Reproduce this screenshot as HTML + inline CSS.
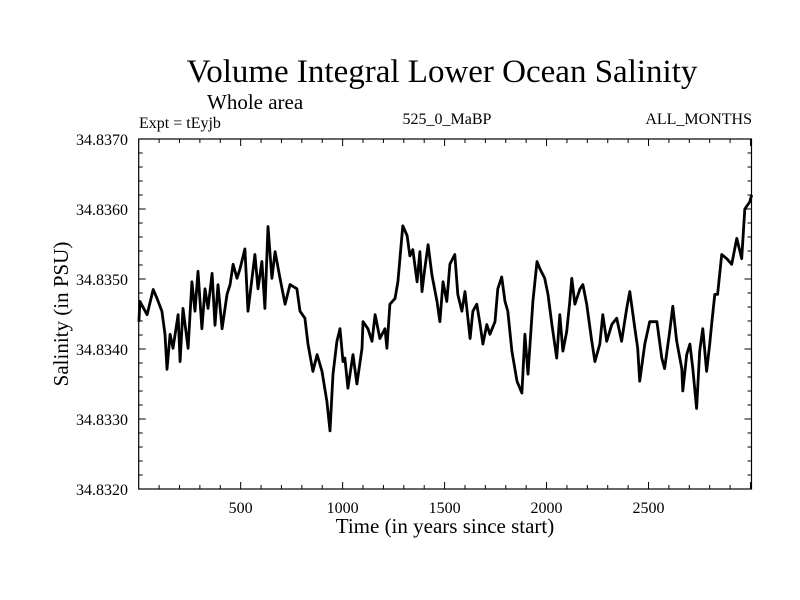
<!DOCTYPE html>
<html><head><meta charset="utf-8"><style>
body{margin:0;background:#fff;}
svg{display:block;font-family:"Liberation Serif",serif;}
</style></head><body>
<svg id="chart" width="800" height="600" viewBox="0 0 800 600">
<rect width="800" height="600" fill="#fff"/>
<text x="442" y="82" font-size="33" text-anchor="middle">Volume Integral Lower Ocean Salinity</text>
<text x="207" y="109" font-size="21">Whole area</text>
<text x="139" y="128" font-size="16">Expt = tEyjb</text>
<text x="447" y="124" font-size="16" text-anchor="middle">525_0_MaBP</text>
<text x="752" y="124" font-size="16" text-anchor="end">ALL_MONTHS</text>
<text x="0" y="0" font-size="21" text-anchor="middle" transform="translate(68,314) rotate(-90)">Salinity (in PSU)</text>
<text x="445" y="533" font-size="21" text-anchor="middle">Time (in years since start)</text>
<g id="ticks"></g>
<g id="series"></g>
<rect x="138.7" y="139" width="612.8" height="350" fill="none" stroke="#000" stroke-width="1.2"/>
</svg>
<script>
const years=[1,6,41,71,90,114,129,139,154,168,193,203,217,242,261,276,291,310,325,340,360,374,389,409,433,448,463,482,497,521,536,570,585,604,619,634,653,669,693,718,742,776,791,815,830,854,875,899,923,938,953,972,987,1002,1011,1026,1051,1070,1095,1100,1124,1144,1159,1183,1208,1217,1232,1257,1271,1295,1316,1330,1344,1365,1379,1389,1403,1419,1438,1463,1477,1492,1511,1526,1550,1565,1585,1600,1625,1639,1658,1674,1688,1707,1722,1747,1761,1780,1796,1810,1830,1855,1879,1894,1909,1933,1953,1967,1991,2007,2026,2050,2065,2080,2099,2114,2124,2139,2164,2178,2197,2222,2237,2261,2276,2295,2320,2344,2368,2393,2408,2433,2447,2457,2482,2506,2541,2565,2579,2604,2619,2638,2663,2668,2687,2703,2717,2736,2751,2766,2785,2800,2811,2825,2839,2859,2884,2908,2933,2957,2972,2996,3006];
// salinity anomaly above 34.8320 in units of 1e-4 PSU
const anom=[23.9,26.8,24.9,28.5,27.2,25.4,22.1,17.1,22.1,20.1,24.9,18.2,25.8,20.1,29.6,25.4,31.1,22.9,28.6,25.8,30.8,23.4,29.2,22.9,27.8,29.2,32.1,30.1,31.5,34.3,25.4,33.5,28.6,32.5,25.8,37.5,30.1,33.9,30.1,26.4,29.2,28.6,25.4,24.4,20.7,16.8,19.2,16.8,12.5,8.3,16.4,21.1,22.9,18.2,18.7,14.4,19.2,15.0,20.1,23.9,22.9,21.1,24.9,21.5,22.9,20.1,26.4,27.2,29.6,37.6,36.2,33.3,34.2,29.6,33.9,28.2,31.5,34.9,30.6,26.8,23.9,29.6,26.8,32.1,33.5,27.8,25.4,28.2,21.5,25.4,26.4,23.5,20.7,23.5,22.1,23.9,28.6,30.3,26.8,25.4,19.7,15.4,13.7,22.1,16.4,26.8,32.5,31.5,30.1,27.8,23.5,18.7,24.9,19.7,22.5,26.8,30.1,26.4,28.6,29.2,26.4,21.1,18.2,20.7,24.9,21.1,23.5,24.4,21.1,25.8,28.2,22.9,20.1,15.4,20.7,23.9,23.9,18.7,17.2,22.5,26.1,21.1,17.2,14.0,19.2,20.7,17.2,11.5,19.7,22.9,16.8,20.7,23.9,27.8,27.8,33.5,32.9,32.1,35.8,32.9,40.0,41.0,42.0];
const yTickVals=[34.832,34.833,34.834,34.835,34.836,34.837];
const yTickLabels=["34.8320","34.8330","34.8340","34.8350","34.8360","34.8370"];
const xTickVals=[500,1000,1500,2000,2500];
const xTickLabels=["500","1000","1500","2000","2500"];

const X0=138.7,X1=751.5,Y0=489,Y1=139,XMAX=3005,YMIN=34.832,YMAX=34.837;
function xs(v){return X0+(v/XMAX)*(X1-X0);}
function ys(v){return Y0-(v-YMIN)/(YMAX-YMIN)*(Y0-Y1);}
const NS="http://www.w3.org/2000/svg";
const tg=document.getElementById('ticks');
function line(x1,y1,x2,y2,name){const l=document.createElementNS(NS,'line');l.setAttribute('x1',x1);l.setAttribute('y1',y1);l.setAttribute('x2',x2);l.setAttribute('y2',y2);l.setAttribute('stroke','#000');l.setAttribute('stroke-width','1');


tg.appendChild(l);}
function text(x,y,s,anchor,name){const t=document.createElementNS(NS,'text');t.setAttribute('x',x);t.setAttribute('y',y);t.setAttribute('font-size','16');t.setAttribute('text-anchor',anchor);t.textContent=s;


tg.appendChild(t);}
for(let k=0;k<=25;k++){const v=YMIN+k*0.0002;const y=ys(v);const len=(k%5===0)?7:4;
line(X0,y,X0+len,y,'y-tick');line(X1,y,X1-len,y,'y-tick-right');}
yTickVals.forEach((v,i)=>text(128,ys(v)+6,yTickLabels[i],'end','y-tick-label'));
for(let v=100;v<XMAX;v+=100){const x=xs(v);const len=(v%500===0)?7:4;
line(x,Y0,x,Y0-len,'x-tick');line(x,Y1,x,Y1+len,'x-tick-top');}
xTickVals.forEach((v,i)=>text(xs(v),Y0+24,xTickLabels[i],'middle','x-tick-label'));
const sg=document.getElementById('series');
const p=document.createElementNS(NS,'path');
let d='';years.forEach((yr,i)=>{d+=(i?'L':'M')+xs(yr).toFixed(1)+' '+ys(YMIN+anom[i]*0.0001).toFixed(1);});
p.setAttribute('d',d);p.setAttribute('fill','none');p.setAttribute('stroke','#000');p.setAttribute('stroke-width','2.8');p.setAttribute('stroke-linejoin','round');


sg.appendChild(p);
</script>
</body></html>
